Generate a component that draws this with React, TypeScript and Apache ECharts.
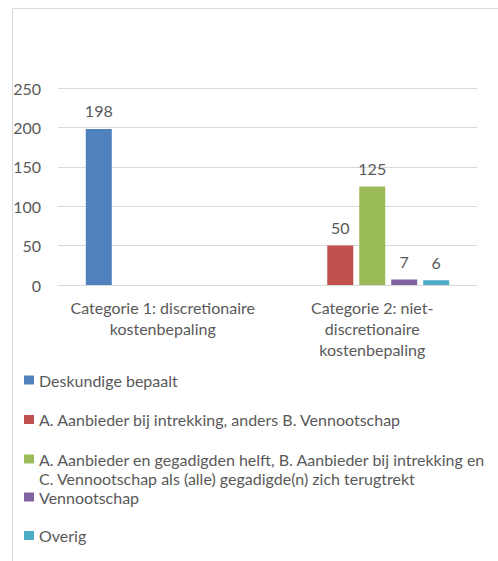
import React, { useEffect, useRef } from "react";
import * as echarts from "echarts";

const categories = [
  "Categorie 1: discretionaire\nkostenbepaling",
  "Categorie 2: niet-\ndiscretionaire\nkostenbepaling",
];

const seriesNames = [
  "Deskundige bepaalt",
  "A. Aanbieder bij intrekking, anders B. Vennootschap",
  "A. Aanbieder en gegadigden helft, B. Aanbieder bij intrekking en C. Vennootschap als (alle) gegadigde(n) zich terugtrekt",
  "Vennootschap",
  "Overig",
];

const legendLabels = [
  "Deskundige bepaalt",
  "A. Aanbieder bij intrekking, anders B. Vennootschap",
  "A. Aanbieder en gegadigden helft, B. Aanbieder bij intrekking en\nC. Vennootschap als (alle) gegadigde(n) zich terugtrekt",
  "Vennootschap",
  "Overig",
];

const deskundige = [198, null];
const aanbiederIntrekking = [null, 50];
const aanbiederHelft = [null, 125];
const vennootschap = [null, 7];
const overig = [null, 6];

const seriesValues = [deskundige, aanbiederIntrekking, aanbiederHelft, vennootschap, overig];
const colors = ["#4F81BD", "#C0504D", "#9BBB59", "#8064A2", "#4BACC6"];

const yTicks = [0, 50, 100, 150, 200, 250];

const FONT = "Lato, 'Noto Sans', sans-serif";
const TEXT = "#595959";
const FS = 16;

export default function App() {
  const ref = useRef<HTMLDivElement>(null);
  useEffect(() => {
    if (!ref.current) return;
    const chart = echarts.init(ref.current, undefined, { renderer: "svg" });
    const legendCenters = [380, 419.5, 459, 497, 535.5];
    const lh = 19;
    const legends = seriesNames.map((name, i) => {
      const multi = legendLabels[i].includes("\n");
      const label = multi ? "\n" + legendLabels[i] : legendLabels[i];
      const top = multi ? legendCenters[i] - (lh * 3) / 2 : legendCenters[i] - lh / 2;
      return {
        data: [name],
        orient: "vertical",
        left: 24,
        top,
        padding: 0,
        itemWidth: 10,
        itemHeight: 9,
        icon: "rect",
        formatter: () => label,
        selectedMode: false,
        textStyle: {
          color: TEXT,
          fontSize: FS,
          fontFamily: FONT,
          lineHeight: lh,
        },
      };
    });
    chart.setOption({
      animation: false,
      color: colors,
      textStyle: { fontFamily: FONT },
      graphic: [
        {
          type: "rect",
          shape: { x: 12.5, y: 8.5, width: 700, height: 700 },
          style: { fill: "none", stroke: "#D9D9D9", lineWidth: 1 },
          silent: true,
        },
      ],
      legend: legends,
      grid: { left: 58, right: 21, top: 88, bottom: 276, containLabel: false },
      xAxis: {
        type: "category",
        data: categories,
        axisLine: { lineStyle: { color: "#D9D9D9" } },
        axisTick: { show: false },
        axisLabel: {
          color: TEXT,
          fontSize: FS,
          fontFamily: FONT,
          lineHeight: 21,
          margin: 12,
          interval: 0,
        },
      },
      yAxis: {
        type: "value",
        min: yTicks[0],
        max: yTicks[yTicks.length - 1],
        interval: 50,
        axisLine: { show: false },
        axisTick: { show: false },
        splitLine: { lineStyle: { color: "#D9D9D9" } },
        axisLabel: { color: TEXT, fontSize: FS, fontFamily: FONT, margin: 17 },
      },
      series: seriesNames.map((name, i) => ({
        name,
        type: "bar",
        data: seriesValues[i],
        barWidth: 26,
        barGap: "23%",
        itemStyle: { color: colors[i] },
        label: {
          show: true,
          position: "top",
          distance: 10,
          color: TEXT,
          fontSize: FS,
          fontFamily: FONT,
        },
      })),
    });
    return () => chart.dispose();
  }, []);
  return (
    <div
      ref={ref}
      style={{ position: "absolute", left: 0, top: 0, width: 498, height: 561 }}
    />
  );
}
